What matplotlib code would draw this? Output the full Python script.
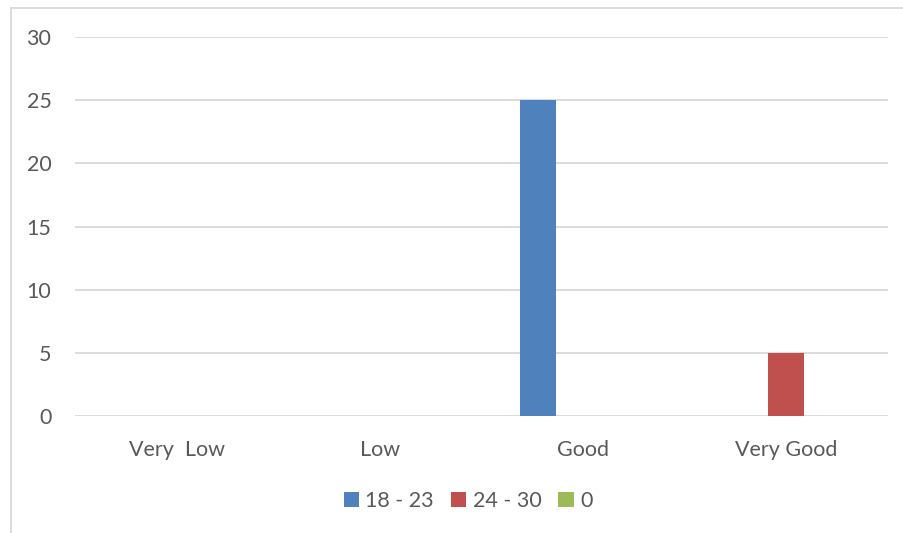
import numpy as np
import matplotlib.pyplot as plt
from matplotlib.patches import Patch
from matplotlib.lines import Line2D

categories = ["Very  Low", "Low", "Good", "Very Good"]
series_names = ["18 - 23", "24 - 30", "0"]
age_18_23 = [0, 0, 25, 0]
age_24_30 = [0, 0, 0, 5]
zero_series = [0, 0, 0, 0]
yticks = [0, 5, 10, 15, 20, 25, 30]

colors = ["#4F81BD", "#C0504D", "#9BBB59"]
text_color = "#595959"
grid_color = "#D9D9D9"

plt.rcParams['font.family'] = ['Lato', 'DejaVu Sans']
fs = 15.5

W, H = 904, 533
fig = plt.figure(figsize=(W / 100, H / 100), dpi=100)
ax = fig.add_axes([75 / W, 1 - 416 / H, (888 - 75) / W, (416 - 37) / H])

x = np.arange(len(categories))
bar_w = 0.177
step = 0.221
for i, (vals, col) in enumerate(zip([age_18_23, age_24_30, zero_series], colors)):
    ax.bar(x + (i - 1) * step, vals, width=bar_w, color=col, zorder=3)

ax.set_xlim(-0.5, len(categories) - 0.5)
ax.set_ylim(0, 30)
ax.set_yticks(yticks)
ax.set_xticks(x)
ax.set_xticklabels(categories)
for y in yticks:
    ax.axhline(y, color=grid_color, lw=1.3, zorder=1)
for s in ax.spines.values():
    s.set_visible(False)
ax.tick_params(length=0, labelsize=fs, labelcolor=text_color)
ax.tick_params(axis='y', pad=17)
ax.tick_params(axis='x', pad=17)

handles = [Patch(facecolor=c, edgecolor='none') for c in colors]
fig.legend(handles, series_names, loc='center', bbox_to_anchor=(468 / W, 1 - 501 / H),
           ncol=3, frameon=False, fontsize=fs, labelcolor=text_color,
           handlelength=0.7, handleheight=0.7, handletextpad=0.3, columnspacing=0.8)

# chart border (left and top edges only are in view)
fig.add_artist(Line2D([11 / W, 11 / W], [0, 1 - 8 / H], color=grid_color, lw=1.3))
fig.add_artist(Line2D([11 / W, 1], [1 - 8 / H, 1 - 8 / H], color=grid_color, lw=1.3))

fig.savefig("out.png", dpi=100)
